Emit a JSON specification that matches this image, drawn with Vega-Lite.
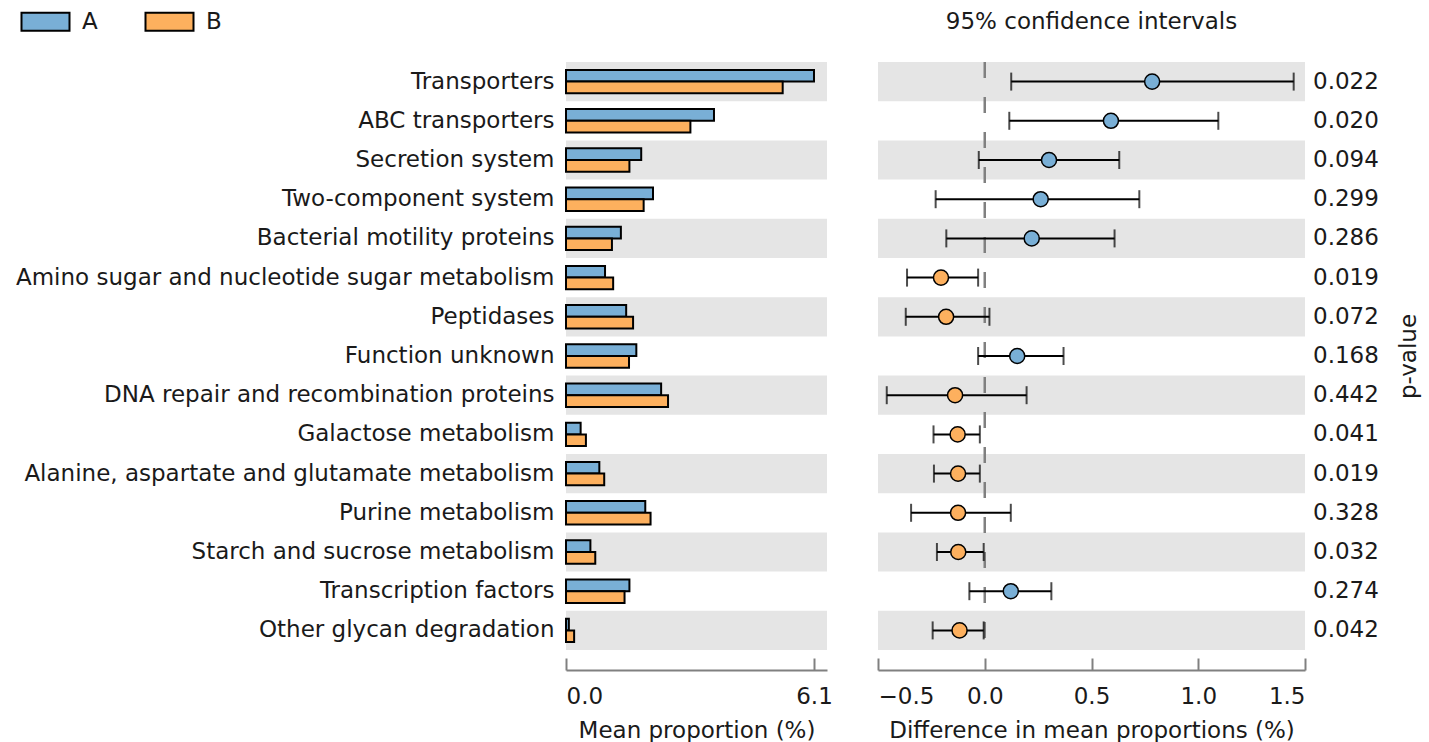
{
  "$schema": "https://vega.github.io/schema/vega-lite/v6.json",
  "padding": {"left": 15, "top": 10, "right": 8, "bottom": 0},
  "background": "white",
  "config": {
    "font": "DejaVu Sans",
    "view": {"stroke": null},
    "axis": {"labelFont": "DejaVu Sans", "titleFont": "DejaVu Sans", "labelFontSize": 23, "titleFontSize": 23, "labelColor": "#1a1a1a", "titleColor": "#1a1a1a", "titleFontWeight": "normal", "grid": false},
    "title": {"font": "DejaVu Sans", "fontSize": 23, "fontWeight": "normal", "color": "#1a1a1a"}
  },
  "datasets": {
    "rows": [
      {"name": "Transporters", "A": 6.1, "B": 5.33, "diff": 0.784, "lo": 0.124, "hi": 1.447, "p": 0.022, "group": "A"},
      {"name": "ABC transporters", "A": 3.64, "B": 3.06, "diff": 0.591, "lo": 0.115, "hi": 1.094, "p": 0.020, "group": "A"},
      {"name": "Secretion system", "A": 1.85, "B": 1.56, "diff": 0.301, "lo": -0.028, "hi": 0.63, "p": 0.094, "group": "A"},
      {"name": "Two-component system", "A": 2.14, "B": 1.91, "diff": 0.262, "lo": -0.23, "hi": 0.724, "p": 0.299, "group": "A"},
      {"name": "Bacterial motility proteins", "A": 1.35, "B": 1.13, "diff": 0.22, "lo": -0.18, "hi": 0.608, "p": 0.286, "group": "A"},
      {"name": "Amino sugar and nucleotide sugar metabolism", "A": 0.96, "B": 1.16, "diff": -0.205, "lo": -0.364, "hi": -0.031, "p": 0.019, "group": "B"},
      {"name": "Peptidases", "A": 1.48, "B": 1.65, "diff": -0.181, "lo": -0.37, "hi": 0.022, "p": 0.072, "group": "B"},
      {"name": "Function unknown", "A": 1.73, "B": 1.55, "diff": 0.152, "lo": -0.031, "hi": 0.369, "p": 0.168, "group": "A"},
      {"name": "DNA repair and recombination proteins", "A": 2.34, "B": 2.51, "diff": -0.139, "lo": -0.459, "hi": 0.196, "p": 0.442, "group": "B"},
      {"name": "Galactose metabolism", "A": 0.36, "B": 0.49, "diff": -0.127, "lo": -0.24, "hi": -0.023, "p": 0.041, "group": "B"},
      {"name": "Alanine, aspartate and glutamate metabolism", "A": 0.82, "B": 0.94, "diff": -0.125, "lo": -0.238, "hi": -0.023, "p": 0.019, "group": "B"},
      {"name": "Purine metabolism", "A": 1.95, "B": 2.08, "diff": -0.125, "lo": -0.345, "hi": 0.122, "p": 0.328, "group": "B"},
      {"name": "Starch and sucrose metabolism", "A": 0.6, "B": 0.72, "diff": -0.124, "lo": -0.224, "hi": -0.005, "p": 0.032, "group": "B"},
      {"name": "Transcription factors", "A": 1.56, "B": 1.44, "diff": 0.122, "lo": -0.072, "hi": 0.312, "p": 0.274, "group": "A"},
      {"name": "Other glycan degradation", "A": 0.07, "B": 0.2, "diff": -0.118, "lo": -0.244, "hi": -0.005, "p": 0.042, "group": "B"}
    ]
  },
  "spacing": 44,
  "hconcat": [
    {
      "width": 261,
      "height": 588,
      "data": {"name": "rows"},
      "layer": [
        {
          "transform": [{"window": [{"op": "row_number", "as": "rn"}]}, {"filter": "datum.rn % 2 == 1"}],
          "mark": {"type": "rect", "color": "#e5e5e5"},
          "encoding": {
            "y": {"field": "name", "type": "nominal",
                  "sort": ["Transporters", "ABC transporters", "Secretion system", "Two-component system", "Bacterial motility proteins", "Amino sugar and nucleotide sugar metabolism", "Peptidases", "Function unknown", "DNA repair and recombination proteins", "Galactose metabolism", "Alanine, aspartate and glutamate metabolism", "Purine metabolism", "Starch and sucrose metabolism", "Transcription factors", "Other glycan degradation"],
                  "scale": {"paddingInner": 0, "paddingOuter": 0},
                  "axis": {"title": null, "ticks": false, "domain": false, "labelPadding": 12, "labelLimit": 0}},
            "x": {"value": 0},
            "x2": {"value": "width"}
          }
        },
        {
          "transform": [{"fold": ["A", "B"], "as": ["grp", "mean"]}],
          "mark": {"type": "bar", "stroke": "black", "strokeWidth": 2, "opacity": 1},
          "encoding": {
            "y": {"field": "name", "type": "nominal",
                  "sort": ["Transporters", "ABC transporters", "Secretion system", "Two-component system", "Bacterial motility proteins", "Amino sugar and nucleotide sugar metabolism", "Peptidases", "Function unknown", "DNA repair and recombination proteins", "Galactose metabolism", "Alanine, aspartate and glutamate metabolism", "Purine metabolism", "Starch and sucrose metabolism", "Transcription factors", "Other glycan degradation"]},
            "yOffset": {"field": "grp", "type": "nominal", "scale": {"paddingInner": 0, "paddingOuter": 0.675}},
            "x": {"field": "mean", "type": "quantitative", "scale": {"domain": [0, 6.42], "nice": false},
                  "axis": {"values": [0, 6.1], "format": ".1f", "offset": 20, "domainColor": "#808080", "domainWidth": 2, "tickColor": "#808080", "tickWidth": 2, "tickSize": -12, "labelPadding": 27, "title": "Mean proportion (%)", "titlePadding": 11}},
            "color": {"field": "grp", "type": "nominal", "scale": {"domain": ["A", "B"], "range": ["#79AFD6", "#FDB05E"]},
                      "legend": {"title": null, "orient": "none", "legendX": -532, "legendY": -52, "direction": "horizontal", "symbolType": "M-2.667,-1H2.667V1H-2.667Z", "symbolSize": 324, "symbolStrokeColor": "black", "symbolStrokeWidth": 2, "symbolOpacity": 1, "labelFontSize": 23, "labelFont": "DejaVu Sans", "labelColor": "#1a1a1a", "labelOffset": 25, "columnPadding": 43, "padding": 0}}
          }
        }
      ]
    },
    {
      "width": 427,
      "height": 588,
      "title": {"text": "95% confidence intervals", "anchor": "middle", "frame": "group", "baseline": "alphabetic", "offset": 9},
      "data": {"name": "rows"},
      "layer": [
        {
          "transform": [{"window": [{"op": "row_number", "as": "rn"}]}, {"filter": "datum.rn % 2 == 1"}],
          "mark": {"type": "rect", "color": "#e5e5e5"},
          "encoding": {
            "y": {"field": "name", "type": "nominal",
                  "sort": ["Transporters", "ABC transporters", "Secretion system", "Two-component system", "Bacterial motility proteins", "Amino sugar and nucleotide sugar metabolism", "Peptidases", "Function unknown", "DNA repair and recombination proteins", "Galactose metabolism", "Alanine, aspartate and glutamate metabolism", "Purine metabolism", "Starch and sucrose metabolism", "Transcription factors", "Other glycan degradation"],
                  "scale": {"paddingInner": 0, "paddingOuter": 0},
                  "axis": {"orient": "right", "title": "p-value", "labels": false, "ticks": false, "domain": false, "titlePadding": 103, "titleAngle": 270, "titleBaseline": "middle"}},
            "x": {"value": 0},
            "x2": {"value": "width"}
          }
        },
        {
          "data": {"values": [{}]},
          "mark": {"type": "rule", "strokeDash": [16, 19], "color": "#808080", "strokeWidth": 2.5},
          "encoding": {"x": {"datum": 0}}
        },
        {
          "mark": {"type": "rule", "color": "black", "strokeWidth": 2},
          "encoding": {
            "y": {"field": "name", "type": "nominal",
                  "sort": ["Transporters", "ABC transporters", "Secretion system", "Two-component system", "Bacterial motility proteins", "Amino sugar and nucleotide sugar metabolism", "Peptidases", "Function unknown", "DNA repair and recombination proteins", "Galactose metabolism", "Alanine, aspartate and glutamate metabolism", "Purine metabolism", "Starch and sucrose metabolism", "Transcription factors", "Other glycan degradation"]},
            "x": {"field": "lo", "type": "quantitative", "scale": {"domain": [-0.5, 1.5], "nice": false},
                  "axis": {"values": [-0.5, 0, 0.5, 1, 1.5], "format": ".1f", "offset": 20, "domainColor": "#808080", "domainWidth": 2, "tickColor": "#808080", "tickWidth": 2, "tickSize": -12, "labelPadding": 27, "title": "Difference in mean proportions (%)", "titlePadding": 11}},
            "x2": {"field": "hi"}
          }
        },
        {
          "mark": {"type": "tick", "color": "black", "size": 18, "thickness": 2, "orient": "vertical"},
          "encoding": {
            "y": {"field": "name", "type": "nominal",
                  "sort": ["Transporters", "ABC transporters", "Secretion system", "Two-component system", "Bacterial motility proteins", "Amino sugar and nucleotide sugar metabolism", "Peptidases", "Function unknown", "DNA repair and recombination proteins", "Galactose metabolism", "Alanine, aspartate and glutamate metabolism", "Purine metabolism", "Starch and sucrose metabolism", "Transcription factors", "Other glycan degradation"]},
            "x": {"field": "lo", "type": "quantitative"}
          }
        },
        {
          "mark": {"type": "tick", "color": "black", "size": 18, "thickness": 2, "orient": "vertical"},
          "encoding": {
            "y": {"field": "name", "type": "nominal",
                  "sort": ["Transporters", "ABC transporters", "Secretion system", "Two-component system", "Bacterial motility proteins", "Amino sugar and nucleotide sugar metabolism", "Peptidases", "Function unknown", "DNA repair and recombination proteins", "Galactose metabolism", "Alanine, aspartate and glutamate metabolism", "Purine metabolism", "Starch and sucrose metabolism", "Transcription factors", "Other glycan degradation"]},
            "x": {"field": "hi", "type": "quantitative"}
          }
        },
        {
          "mark": {"type": "point", "filled": true, "size": 227, "stroke": "black", "strokeWidth": 1.5, "opacity": 1},
          "encoding": {
            "y": {"field": "name", "type": "nominal",
                  "sort": ["Transporters", "ABC transporters", "Secretion system", "Two-component system", "Bacterial motility proteins", "Amino sugar and nucleotide sugar metabolism", "Peptidases", "Function unknown", "DNA repair and recombination proteins", "Galactose metabolism", "Alanine, aspartate and glutamate metabolism", "Purine metabolism", "Starch and sucrose metabolism", "Transcription factors", "Other glycan degradation"]},
            "x": {"field": "diff", "type": "quantitative"},
            "color": {"field": "group", "type": "nominal"}
          }
        },
        {
          "mark": {"type": "text", "align": "left", "baseline": "middle", "dx": 8, "fontSize": 23, "font": "DejaVu Sans", "color": "#1a1a1a"},
          "encoding": {
            "y": {"field": "name", "type": "nominal",
                  "sort": ["Transporters", "ABC transporters", "Secretion system", "Two-component system", "Bacterial motility proteins", "Amino sugar and nucleotide sugar metabolism", "Peptidases", "Function unknown", "DNA repair and recombination proteins", "Galactose metabolism", "Alanine, aspartate and glutamate metabolism", "Purine metabolism", "Starch and sucrose metabolism", "Transcription factors", "Other glycan degradation"]},
            "x": {"datum": 1.5},
            "text": {"field": "p", "type": "quantitative", "format": ".3f"}
          }
        }
      ]
    }
  ]
}
